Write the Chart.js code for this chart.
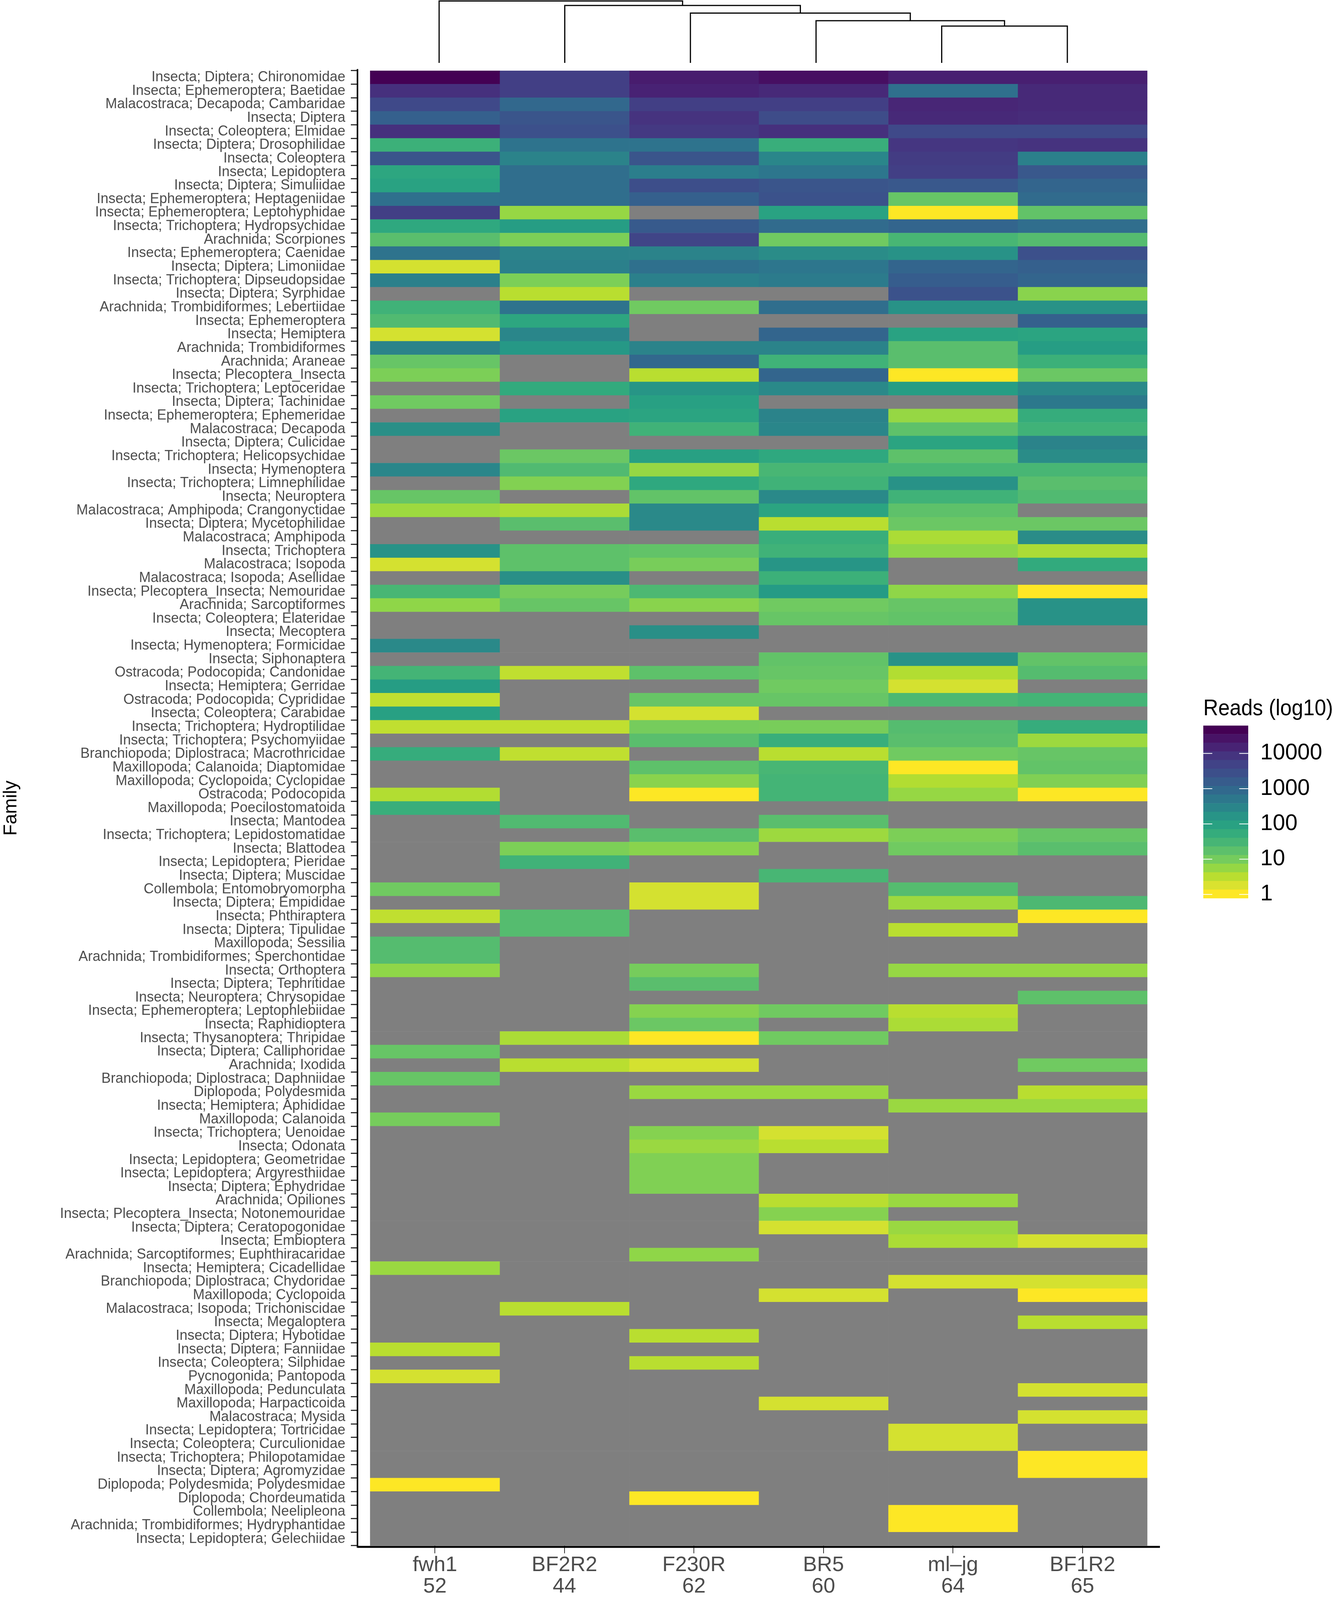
<!DOCTYPE html>
<html><head><meta charset="utf-8">
<style>html,body{margin:0;padding:0;background:#fff;overflow:hidden}#page{position:relative;width:3412px;background:#fff}canvas{position:absolute;display:block}</style>
<script src="https://cdn.jsdelivr.net/npm/chart.js@4"></script>
</head><body><div id="page">
<canvas id="heat" style="left:0;top:0"></canvas>
<canvas id="dendro" style="left:1114px;top:0"></canvas>
<canvas id="legend" style="left:3080px"></canvas>
</div>
<script>
const N = null;
const primers = ['fwh1','BF2R2','F230R','BR5','ml\u2013jg','BF1R2'];
const primerCounts = ['52','44','62','60','64','65'];
const families = [
'Insecta; Diptera; Chironomidae','Insecta; Ephemeroptera; Baetidae','Malacostraca; Decapoda; Cambaridae','Insecta; Diptera','Insecta; Coleoptera; Elmidae','Insecta; Diptera; Drosophilidae','Insecta; Coleoptera','Insecta; Lepidoptera','Insecta; Diptera; Simuliidae','Insecta; Ephemeroptera; Heptageniidae',
'Insecta; Ephemeroptera; Leptohyphidae','Insecta; Trichoptera; Hydropsychidae','Arachnida; Scorpiones','Insecta; Ephemeroptera; Caenidae','Insecta; Diptera; Limoniidae','Insecta; Trichoptera; Dipseudopsidae','Insecta; Diptera; Syrphidae','Arachnida; Trombidiformes; Lebertiidae','Insecta; Ephemeroptera','Insecta; Hemiptera',
'Arachnida; Trombidiformes','Arachnida; Araneae','Insecta; Plecoptera_Insecta','Insecta; Trichoptera; Leptoceridae','Insecta; Diptera; Tachinidae','Insecta; Ephemeroptera; Ephemeridae','Malacostraca; Decapoda','Insecta; Diptera; Culicidae','Insecta; Trichoptera; Helicopsychidae','Insecta; Hymenoptera',
'Insecta; Trichoptera; Limnephilidae','Insecta; Neuroptera','Malacostraca; Amphipoda; Crangonyctidae','Insecta; Diptera; Mycetophilidae','Malacostraca; Amphipoda','Insecta; Trichoptera','Malacostraca; Isopoda','Malacostraca; Isopoda; Asellidae','Insecta; Plecoptera_Insecta; Nemouridae','Arachnida; Sarcoptiformes',
'Insecta; Coleoptera; Elateridae','Insecta; Mecoptera','Insecta; Hymenoptera; Formicidae','Insecta; Siphonaptera','Ostracoda; Podocopida; Candonidae','Insecta; Hemiptera; Gerridae','Ostracoda; Podocopida; Cyprididae','Insecta; Coleoptera; Carabidae','Insecta; Trichoptera; Hydroptilidae','Insecta; Trichoptera; Psychomyiidae',
'Branchiopoda; Diplostraca; Macrothricidae','Maxillopoda; Calanoida; Diaptomidae','Maxillopoda; Cyclopoida; Cyclopidae','Ostracoda; Podocopida','Maxillopoda; Poecilostomatoida','Insecta; Mantodea','Insecta; Trichoptera; Lepidostomatidae','Insecta; Blattodea','Insecta; Lepidoptera; Pieridae','Insecta; Diptera; Muscidae',
'Collembola; Entomobryomorpha','Insecta; Diptera; Empididae','Insecta; Phthiraptera','Insecta; Diptera; Tipulidae','Maxillopoda; Sessilia','Arachnida; Trombidiformes; Sperchontidae','Insecta; Orthoptera','Insecta; Diptera; Tephritidae','Insecta; Neuroptera; Chrysopidae','Insecta; Ephemeroptera; Leptophlebiidae',
'Insecta; Raphidioptera','Insecta; Thysanoptera; Thripidae','Insecta; Diptera; Calliphoridae','Arachnida; Ixodida','Branchiopoda; Diplostraca; Daphniidae','Diplopoda; Polydesmida','Insecta; Hemiptera; Aphididae','Maxillopoda; Calanoida','Insecta; Trichoptera; Uenoidae','Insecta; Odonata',
'Insecta; Lepidoptera; Geometridae','Insecta; Lepidoptera; Argyresthiidae','Insecta; Diptera; Ephydridae','Arachnida; Opiliones','Insecta; Plecoptera_Insecta; Notonemouridae','Insecta; Diptera; Ceratopogonidae','Insecta; Embioptera','Arachnida; Sarcoptiformes; Euphthiracaridae','Insecta; Hemiptera; Cicadellidae','Branchiopoda; Diplostraca; Chydoridae',
'Maxillopoda; Cyclopoida','Malacostraca; Isopoda; Trichoniscidae','Insecta; Megaloptera','Insecta; Diptera; Hybotidae','Insecta; Diptera; Fanniidae','Insecta; Coleoptera; Silphidae','Pycnogonida; Pantopoda','Maxillopoda; Pedunculata','Maxillopoda; Harpacticoida','Malacostraca; Mysida',
'Insecta; Lepidoptera; Tortricidae','Insecta; Coleoptera; Curculionidae','Insecta; Trichoptera; Philopotamidae','Insecta; Diptera; Agromyzidae','Diplopoda; Polydesmida; Polydesmidae','Diplopoda; Chordeumatida','Collembola; Neelipleona','Arachnida; Trombidiformes; Hydryphantidae','Insecta; Lepidoptera; Gelechiidae'];

// log10(reads) per family, top row first; N = not detected
const fwh1 = [4.79,4.1,3.65,3.2,4.1,1.65,3.4,1.9,2.0,2.9,
3.85,1.85,1.3,2.85,.3,2.6,N,1.6,1.4,.3,
2.55,1.15,.95,N,1.05,N,2.35,N,N,2.5,
N,1.15,.7,N,N,2.3,.3,N,1.5,.8,
N,N,2.45,N,1.55,2.1,.45,2.05,.45,N,
1.75,N,N,.55,1.7,N,N,N,N,N,
1.05,N,.45,N,1.35,1.35,.8,N,N,N,
N,N,1.15,N,1.15,N,N,1.0,N,N,
N,N,N,N,N,N,N,N,.72,N,
N,N,N,N,.5,N,.3,N,N,N,
N,N,N,N,0,N,N,N,N];
const BF2R2 = [3.85,3.85,3.05,3.4,3.5,2.85,2.55,2.95,2.95,2.95,
.75,2.1,.95,2.55,2.6,.95,.5,2.85,1.9,2.5,
2.2,N,N,1.8,N,2.0,N,N,1.1,1.4,
.9,N,.6,1.3,N,1.25,1.25,2.35,1.0,1.15,
N,N,N,N,.45,N,N,N,.45,N,
.45,N,N,N,N,1.4,N,.95,1.6,N,
N,N,1.35,1.35,N,N,N,N,N,N,
N,.6,N,.5,N,N,N,N,N,N,
N,N,N,N,N,N,N,N,N,N,
N,.5,N,N,N,N,N,N,N,N,
N,N,N,N,N,N,N,N,N];
const F230R = [4.4,4.3,3.85,4.05,3.95,2.85,3.4,2.65,3.55,3.2,
N,3.3,3.75,2.55,2.9,2.6,N,1.05,N,N,
2.55,3.05,.5,2.25,2.05,1.95,1.6,N,2.05,.75,
1.85,1.2,2.45,2.45,N,1.2,.98,N,1.45,.85,
N,2.35,N,N,1.25,N,1.15,.3,1.0,1.3,
N,1.25,.85,0,N,N,1.3,.85,N,N,
.3,.3,N,N,N,N,1.0,1.3,N,.88,
1.1,0,N,.3,N,.72,N,N,.88,.72,
.92,.92,.92,N,N,N,N,.8,N,N,
N,N,N,.5,N,.5,N,N,N,N,
N,N,N,N,N,0,N,N,N];
const BR5 = [4.6,4.2,3.85,3.6,4.1,1.7,2.5,2.8,3.4,3.45,
2.0,3.0,1.05,2.4,2.8,2.7,N,2.95,N,3.1,
2.55,1.6,3.1,2.45,N,2.55,2.5,N,1.85,1.5,
1.6,2.45,1.95,.5,1.7,1.6,2.25,1.65,2.15,1.05,
1.15,N,N,1.2,1.15,1.05,1.15,N,.98,1.7,
.5,1.5,1.55,1.55,N,1.3,.7,N,N,1.5,
N,N,N,N,N,N,N,N,N,1.05,
N,1.05,N,N,N,.72,N,N,.3,.5,
N,N,N,.5,.88,.3,N,N,N,N,
.3,N,N,N,N,N,N,N,.3,N,
N,N,N,N,N,N,N,N,N];
const mljg = [4.35,2.9,4.25,4.2,3.65,4.0,3.9,3.85,3.35,1.15,
0,3.1,1.5,2.3,3.1,3.25,3.45,2.3,N,2.0,
1.3,1.3,0,2.1,N,.75,1.25,1.95,1.25,1.5,
2.3,1.6,1.25,1.1,.6,.8,N,N,.8,1.15,
1.2,N,N,2.3,.55,.3,1.45,N,1.35,1.3,
1.05,0,.55,.75,N,N,.95,1.05,N,N,
1.35,.7,N,.5,N,N,.75,N,N,.5,
.6,N,N,N,N,N,.72,N,N,N,
N,N,N,.72,N,.72,.6,N,N,.3,
N,N,N,N,N,N,N,N,N,N,
.3,.3,N,N,N,N,0,0,N];
const BF1R2 = [4.35,4.2,4.2,4.15,3.65,4.05,2.6,3.35,3.1,3.0,
1.2,2.95,1.35,3.5,3.2,3.1,.85,2.3,3.2,1.95,
2.1,1.65,1.1,2.45,2.75,1.75,1.6,2.55,2.4,1.5,
1.3,1.4,N,1.1,2.4,.6,1.8,N,0,2.3,
2.3,N,N,1.2,1.35,N,1.55,N,1.75,.7,
1.15,1.2,.92,0,N,N,1.15,1.3,N,N,
N,1.45,0,N,N,N,.75,N,1.25,N,
N,N,N,1.05,N,.5,.72,N,N,N,
N,N,N,N,N,N,.3,N,N,.3,
0,N,.5,N,N,N,N,.3,N,.3,
N,N,0,0,N,N,N,N,N];
const primerColumns = [fwh1,BF2R2,F230R,BR5,mljg,BF1R2];

// dendrogram: leaf joined at each merge, and merge height (fraction of the tallest)
const dendroLeaf = [4,3,2,1,0];
const dendroHeight = [0.595,0.681,0.804,0.928,1];

const legendTicks = [0,1,2,3,4];
const legendMin = -0.111, legendMax = 4.79, legendBins = 20;
const missingColor = '#7f7f7f';
const viridisStops = ['#440154','#481467','#482576','#453781','#404688','#3b528b','#35608d','#2f6f8d','#2b7d8c','#2a8c88','#259c85','#2ea87f','#40b278','#57bd6e','#6ec962','#8fd648','#b5de30','#d8e230','#fde725'];

function hex(c){return [1,3,5].map(i=>parseInt(c.slice(i,i+2),16));}
function viridis(t){ // t: 0 = dark, 1 = yellow
  t=Math.max(0,Math.min(1,t));
  const p=t*(viridisStops.length-1), i=Math.min(Math.floor(p),viridisStops.length-2), f=p-i;
  const a=hex(viridisStops[i]), b=hex(viridisStops[i+1]);
  return 'rgb('+a.map((v,k)=>Math.round(v+(b[k]-v)*f)).join(',')+')';
}
const colorOf = v => v===null ? missingColor : viridis(1 - v/legendMax);

const sans = '"Liberation Sans", Arial, sans-serif';
const colPad = 0.098;

// The browser window can be shorter than the reference: fit all of the chart into its height.
const pageH = Math.min(window.innerHeight || 4803, 4803);
const sy = pageH/4803;
document.getElementById('page').style.height = pageH+'px';
function size(id,w,h,top){const c=document.getElementById(id);c.width=w;c.height=h;c.style.width=w+'px';c.style.height=h+'px';if(top!==undefined)c.style.top=top+'px';return c;}

const axisLines = {
  id:'axisLines',
  afterDraw(c){
    const a=c.chartArea, g=c.ctx;
    g.save(); g.strokeStyle='#000'; g.lineWidth=4;
    g.beginPath(); g.moveTo(a.left,a.top-4); g.lineTo(a.left,a.bottom+5); g.stroke();
    g.lineWidth=5;
    g.beginPath(); g.moveTo(a.left,a.bottom+3); g.lineTo(a.right,a.bottom+3); g.stroke();
    g.restore();
  }
};

new Chart(size('heat',3412,pageH),{
  type:'bar',
  data:{labels:families,datasets:primers.map((name,i)=>({
    label:name,
    data:families.map(()=>[i,i+1]),
    backgroundColor:primerColumns[i].map(colorOf),
    borderWidth:0,grouped:false,barPercentage:1,categoryPercentage:1
  }))},
  plugins:[axisLines],
  options:{
    indexAxis:'y',responsive:false,animation:false,devicePixelRatio:1,
    layout:{padding:{top:212*sy,right:443,left:0,bottom:0}},
    plugins:{legend:{display:false},title:{display:false},tooltip:{enabled:false}},
    scales:{
      x:{type:'linear',min:-colPad,max:primers.length+colPad,position:'bottom',
        afterBuildTicks(s){s.ticks=primers.map((_,i)=>({value:i+0.5}));},
        afterFit(s){s.height=163*sy;},
        border:{display:false},
        grid:{drawOnChartArea:false,drawTicks:true,tickLength:23*sy,color:'#333',lineWidth:2},
        ticks:{autoSkip:false,maxRotation:0,padding:3,color:'#4d4d4d',
          font:{family:sans,size:54,lineHeight:1.02},
          callback(v){const i=Math.floor(v);return [primers[i],primerCounts[i]];}}
      },
      y:{type:'category',position:'left',
        afterFit(s){s.width=915;},
        border:{display:false},
        grid:{drawOnChartArea:false,drawTicks:true,tickLength:17,color:'#333',lineWidth:3},
        title:{display:true,text:'Family',color:'#000',padding:0,font:{family:sans,size:48}},
        ticks:{autoSkip:false,padding:14,color:'#4d4d4d',font:{family:sans,size:36}}
      }
    }
  }
});

// dendrogram
const dendroSets=[]; let clusterPos=5, clusterH=0;
dendroLeaf.forEach((leaf,i)=>{
  const h=dendroHeight[i];
  dendroSets.push({data:[{x:leaf,y:0},{x:leaf,y:h},{x:clusterPos,y:h},{x:clusterPos,y:clusterH}],
    showLine:true,borderColor:'#000',borderWidth:3,pointRadius:0,clip:false,tension:0});
  clusterPos=(leaf+clusterPos)/2; clusterH=h;
});
new Chart(size('dendro',1628,Math.round(189*sy)+3,0),{
  type:'scatter',
  data:{datasets:dendroSets},
  options:{responsive:false,animation:false,devicePixelRatio:1,
    layout:{padding:{left:10,right:10,top:2.5,bottom:3}},
    plugins:{legend:{display:false},title:{display:false},tooltip:{enabled:false}},
    scales:{x:{type:'linear',min:0,max:5,display:false},y:{type:'linear',min:0,max:1,display:false}}
  }
});

// colour bar
const binSize=(legendMax-legendMin)/legendBins;
const legendSets=Array.from({length:legendBins},(_,i)=>({
  data:[[legendMin+i*binSize,legendMin+(i+1)*binSize]],
  backgroundColor:viridis(1-i/(legendBins-1)),
  borderWidth:0,grouped:false,barPercentage:1,categoryPercentage:1
}));
const barTicks={
  id:'barTicks',
  afterDatasetsDraw(c){
    const a=c.chartArea,g=c.ctx,y=c.scales.y;
    g.save(); g.strokeStyle='#fff'; g.lineWidth=2;
    legendTicks.forEach(v=>{
      const p=y.getPixelForValue(v);
      g.beginPath();g.moveTo(a.left,p);g.lineTo(a.left+23,p);g.moveTo(a.right-23,p);g.lineTo(a.right,p);g.stroke();
    });
    g.restore();
  }
};
// title box 68 + 8 px above the bar; bar spans the reference's height fraction
const legendBarH = 572*sy, legendTop = 2178*sy-76;
new Chart(size('legend',332,Math.round(76+legendBarH+20),legendTop),{
  type:'bar',
  data:{labels:['Reads'],datasets:legendSets},
  plugins:[barTicks],
  options:{responsive:false,animation:false,devicePixelRatio:1,
    layout:{padding:{left:0,right:0,top:0,bottom:20}},
    plugins:{legend:{display:false},tooltip:{enabled:false},
      title:{display:true,text:'Reads (log10)',align:'start',color:'#000',padding:{top:0,bottom:8},font:{family:sans,size:57,weight:'normal'}}},
    scales:{
      x:{type:'category',display:false},
      y:{type:'linear',position:'right',min:legendMin,max:legendMax,
        afterBuildTicks(s){s.ticks=legendTicks.map(v=>({value:v}));},
        afterFit(s){s.width=217;},
        border:{display:false},
        grid:{display:false,drawTicks:false},
        ticks:{padding:31,color:'#000',font:{family:sans,size:57},callback(v){return String(Math.pow(10,v));}}
      }
    }
  }
});
</script>
</body></html>
